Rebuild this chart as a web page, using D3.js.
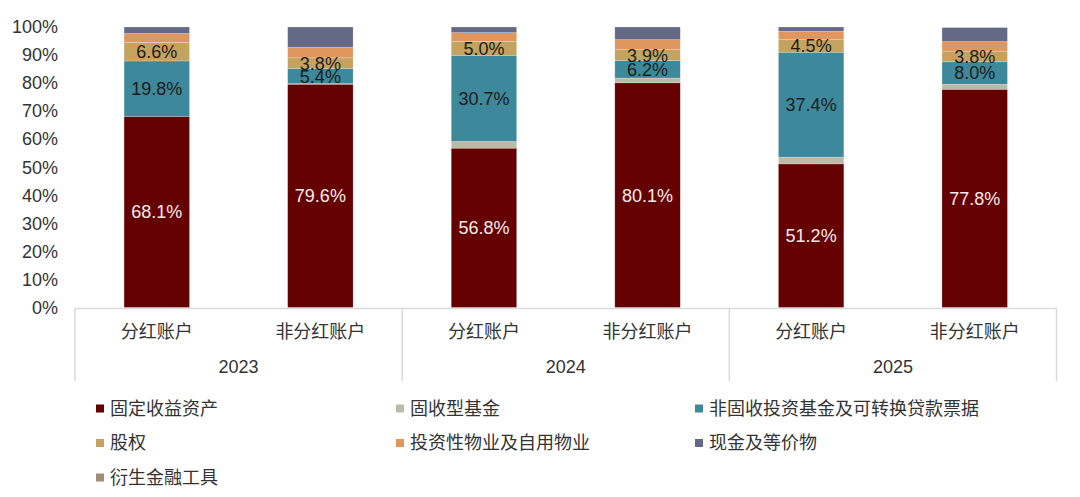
<html>
<head>
<meta charset="utf-8">
<style>
    body { margin: 0; background: #fff; }
    svg text { font-family: "Liberation Sans", Arial, "Noto Sans CJK SC", sans-serif; }
</style>
</head>
<body>
<svg class="chart" width="1080" height="497"></svg>
<script src="https://d3js.org/d3.v7.min.js"></script>
<script>
    // bars: year + account type
    var years = ["2023", "2024", "2025"];
    var accounts = ["分红账户", "非分红账户"];
    var seriesNames = ["固定收益资产", "固收型基金", "非固收投资基金及可转换贷款票据", "股权", "投资性物业及自用物业", "现金及等价物", "衍生金融工具"];
    var seriesColors = ["#640000", "#bcbaa6", "#3d889b", "#c4a25f", "#e0965f", "#646a86", "#a08b76"];

    // one value per bar, in order 2023分红, 2023非分红, 2024分红, ...
    var fixedIncome = [68.1, 79.6, 56.8, 80.1, 51.2, 77.8];
    var fixedFunds  = [0.0, 0.2, 2.4, 1.7, 2.4, 1.8];
    var otherFunds  = [19.8, 5.4, 30.7, 6.2, 37.4, 8.0];
    var equity      = [6.6, 3.8, 5.0, 3.9, 4.5, 3.8];
    var property    = [3.2, 3.8, 3.1, 3.6, 3.0, 3.4];
    var cash        = [2.3, 7.2, 2.0, 4.5, 1.5, 5.0];
    var derivatives = [0.0, 0.0, 0.0, 0.0, 0.0, 0.0];

    var yTicks = [0, 10, 20, 30, 40, 50, 60, 70, 80, 90, 100];
    var labelled = ["固定收益资产", "非固收投资基金及可转换贷款票据", "股权"];

    var allSeries = [fixedIncome, fixedFunds, otherFunds, equity, property, cash, derivatives];
    var rows = [];
    years.forEach(function(y, yi) {
        accounts.forEach(function(a, ai) {
            var i = yi * 2 + ai;
            var row = { id: y + "-" + a, year: y, account: a };
            seriesNames.forEach(function(s, si) { row[s] = allSeries[si][i]; });
            rows.push(row);
        });
    });

    var plotLeft = 75, plotRight = 1056.5, plotTop = 27, plotBottom = 307.5;

    var xScale = d3.scaleBand()
        .domain(rows.map(function(d) { return d.id; }))
        .range([plotLeft, plotRight])
        .paddingInner(0.6)
        .paddingOuter(0.3);

    var yScale = d3.scaleLinear()
        .domain([0, 100])
        .range([plotBottom, plotTop]);

    var color = d3.scaleOrdinal().domain(seriesNames).range(seriesColors);

    var stack = d3.stack().keys(seriesNames)(rows);

    var chart = d3.select('.chart');

    // y axis labels only
    var yAxis = d3.axisLeft(yScale)
        .tickValues(yTicks)
        .tickFormat(function(d) { return d + "%"; })
        .tickSize(0)
        .tickPadding(0);

    var yG = chart.append('g')
        .attr('transform', 'translate(58,0)')
        .call(yAxis);
    yG.select('.domain').remove();
    yG.attr('font-family', null).attr('font-size', null);
    yG.selectAll('text')
        .style('font-size', '18px')
        .style('fill', '#333');

    // bars
    var layers = chart.selectAll('.layer')
        .data(stack)
        .enter()
        .append('g')
        .attr('class', 'layer')
        .style('fill', function(d) { return color(d.key); });

    layers.selectAll('rect')
        .data(function(d) { return d; })
        .enter()
        .append('rect')
        .attr('x', function(d) { return xScale(d.data.id); })
        .attr('width', xScale.bandwidth())
        .attr('y', function(d) { return yScale(d[1]); })
        .attr('height', function(d) { return yScale(d[0]) - yScale(d[1]); })
        .style('stroke', 'rgba(255,255,255,0.35)')
        .style('stroke-width', 0.6);

    // value labels
    stack.forEach(function(layer) {
        if (labelled.indexOf(layer.key) < 0) return;
        chart.append('g').selectAll('text')
            .data(layer)
            .enter()
            .append('text')
            .attr('x', function(d) { return xScale(d.data.id) + xScale.bandwidth() / 2; })
            .attr('y', function(d) { return yScale((d[0] + d[1]) / 2); })
            .attr('dy', '0.36em')
            .attr('text-anchor', 'middle')
            .style('font-size', '18px')
            .style('fill', layer.key === "固定收益资产" ? '#f4ecec' : '#1c1c1c')
            .text(function(d) { return (d[1] - d[0]).toFixed(1) + "%"; });
    });

    // category axis frame
    var frame = chart.append('g').style('stroke', '#d9d9d9').style('stroke-width', 1.5);
    frame.append('line')
        .attr('x1', plotLeft).attr('x2', plotRight)
        .attr('y1', plotBottom + 1).attr('y2', plotBottom + 1);

    var groupW = (plotRight - plotLeft) / years.length;
    d3.range(years.length + 1).forEach(function(i) {
        frame.append('line')
            .attr('x1', plotLeft + i * groupW).attr('x2', plotLeft + i * groupW)
            .attr('y1', plotBottom + 1).attr('y2', 381);
    });

    chart.append('g').selectAll('text')
        .data(rows)
        .enter()
        .append('text')
        .attr('x', function(d) { return xScale(d.id) + xScale.bandwidth() / 2; })
        .attr('y', 332)
        .attr('dy', '0.35em')
        .attr('text-anchor', 'middle')
        .style('font-size', '18px')
        .style('fill', '#333')
        .text(function(d) { return d.account; });

    chart.append('g').selectAll('text')
        .data(years)
        .enter()
        .append('text')
        .attr('x', function(d, i) { return plotLeft + (i + 0.5) * groupW; })
        .attr('y', 367)
        .attr('dy', '0.35em')
        .attr('text-anchor', 'middle')
        .style('font-size', '18px')
        .style('fill', '#333')
        .text(function(d) { return d; });

    // legend, three columns
    var legendX = [96, 396, 695];
    var legend = chart.selectAll('.legend')
        .data(seriesNames)
        .enter()
        .append('g')
        .attr('class', 'legend')
        .attr('transform', function(d, i) {
            return 'translate(' + legendX[i % 3] + ',' + (408.5 + Math.floor(i / 3) * 34.5) + ')';
        });

    legend.append('rect')
        .attr('x', 0)
        .attr('y', -4)
        .attr('width', 8)
        .attr('height', 8)
        .style('fill', function(d) { return color(d); });

    legend.append('text')
        .attr('x', 14)
        .attr('y', 0)
        .attr('dy', '0.35em')
        .style('font-size', '18px')
        .style('fill', '#333')
        .text(function(d) { return d; });
</script>
</body>
</html>
